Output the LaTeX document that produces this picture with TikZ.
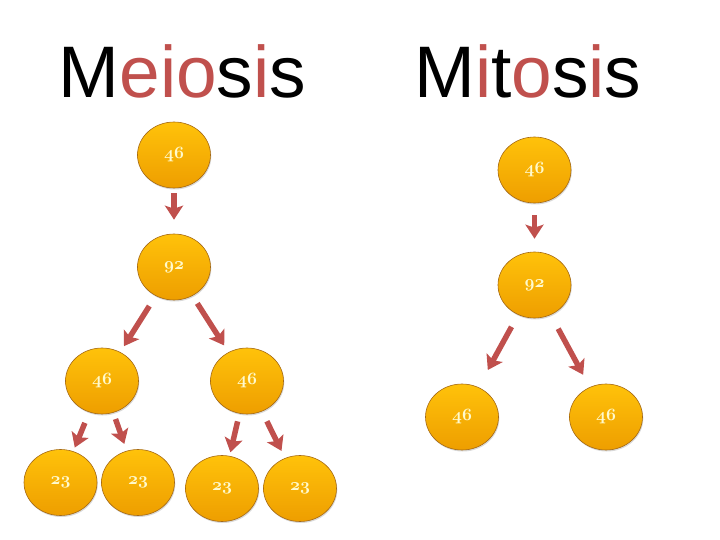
\documentclass[tikz,border=0pt]{standalone}
\usepackage{fontspec}
\newfontfamily\titlefont{Liberation Sans}
\usepackage{tikz}
\usetikzlibrary{arrows.meta, positioning, shapes.geometric, shadows}
\definecolor{cellred}{RGB}{192,80,77}
\definecolor{celltop}{RGB}{255,194,10}
\definecolor{cellbot}{RGB}{238,158,0}
\definecolor{cellrim}{RGB}{165,105,20}
\definecolor{cellnum}{RGB}{255,250,205}
\newcommand{\osnum}[1]{{\fontsize{16}{18}\usefont{OML}{cmm}{b}{it}#1}}

\begin{document}
\begin{tikzpicture}[x=1pt, y=-1pt,
    cell/.style={ellipse, draw=cellrim, line width=0.6pt, top color=celltop, bottom color=cellbot,
      minimum width=73pt, minimum height=66pt, inner sep=0pt, text=cellnum,
      drop shadow={opacity=0.3, shadow xshift=0.8pt, shadow yshift=-1.5pt}},
    split/.style={-{Stealth[length=14pt, width=18pt, inset=3pt]}, line width=5.5pt, draw=cellred},
    title/.style={anchor=base west, inner sep=0pt, font=\titlefont\fontsize{73}{80}\selectfont},
    ]

    \useasboundingbox (0,0) rectangle (720,540);

    % Titles
    \node[title] (meiosis) at (58.5,98) {M\textcolor{cellred}{eio}s\textcolor{cellred}{i}s};
    \node[title] (mitosis) at (414,98) {M\textcolor{cellred}{i}t\textcolor{cellred}{o}s\textcolor{cellred}{i}s};

    % Meiosis cells
    \node[cell] (me46) at (174,155) {\osnum{46}};
    \node[cell] (me92) at (174,267) {\osnum{92}};
    \node[cell] (me46l) at (102,381) {\osnum{46}};
    \node[cell] (me46r) at (247,381) {\osnum{46}};
    \node[cell] (me23a) at (60.5,482.5) {\osnum{23}};
    \node[cell] (me23b) at (138,482.5) {\osnum{23}};
    \node[cell] (me23c) at (222,488.5) {\osnum{23}};
    \node[cell] (me23d) at (300,488.5) {\osnum{23}};

    % Mitosis cells
    \node[cell] (mi46) at (534.5,170) {\osnum{46}};
    \node[cell] (mi92) at (534.5,285) {\osnum{92}};
    \node[cell] (mi46l) at (462,417) {\osnum{46}};
    \node[cell] (mi46r) at (606,417) {\osnum{46}};

    % Arrows between cells
    \foreach \from/\to/\s/\e in {me46/me92/5/14, me92/me46l/12/7, me92/me46r/9/8,
        me46l/me23a/11.5/4, me46l/me23b/6.7/7.3, me46r/me23c/8/3.7, me46r/me23d/11/8,
        mi46/mi92/12/13, mi92/mi46l/13.7/19.6, mi92/mi46r/15.7/14} {
      \draw[split, shorten <=\s pt, shorten >=\e pt] (\from) -- (\to);
    }
\end{tikzpicture}
\end{document}
